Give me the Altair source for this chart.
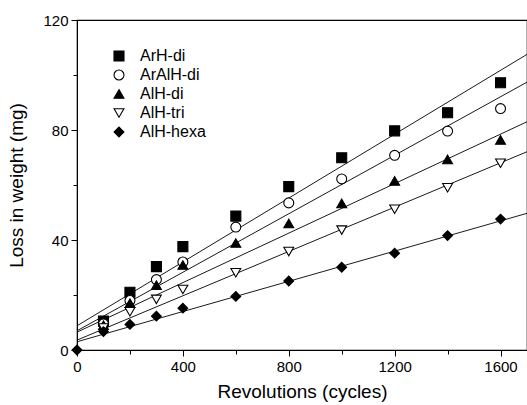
import altair as alt
import pandas as pd

series = ["ArH-di", "ArAlH-di", "AlH-di", "AlH-tri", "AlH-hexa"]
revs = [100, 200, 300, 400, 600, 800, 1000, 1200, 1400, 1600]
arh_di = [10.5, 21.0, 30.3, 37.6, 48.7, 59.4, 69.9, 79.7, 86.3, 97.2]
aralh_di = [9.5, 18.0, 25.6, 32.0, 44.7, 53.5, 62.2, 70.8, 79.6, 87.8]
alh_di = [9.0, 17.0, 23.6, 30.9, 38.9, 46.0, 53.3, 61.5, 69.3, 76.4]
alh_tri = [8.0, 13.9, 18.4, 22.0, 28.1, 35.8, 43.6, 51.2, 59.0, 67.9]
alh_hexa = [6.7, 9.3, 12.3, 15.2, 19.5, 25.1, 30.1, 35.2, 41.6, 47.6]
hexa_origin = [0, 0.0]

fit_x = [0, 1700]
fit_arh_di = [8.8, 107.5]
fit_aralh_di = [7.0, 97.4]
fit_alh_di = [6.5, 83.0]
fit_alh_tri = [3.6, 72.1]
fit_alh_hexa = [3.0, 49.7]

shapes = ["square", "circle", "triangle-up", "triangle-down", "diamond"]
fills = ["black", "white", "black", "white", "black"]
strokes = ["black", "black", "black", "black", "black"]
sizes = [100, 95, 165, 150, 215]

rows = []
for name, vals in zip(series, [arh_di, aralh_di, alh_di, alh_tri, alh_hexa]):
    for x, y in zip(revs, vals):
        rows.append({"series": name, "rev": x, "loss": y})
rows.append({"series": "AlH-hexa", "rev": hexa_origin[0], "loss": hexa_origin[1]})
pts = pd.DataFrame(rows)

frows = []
for name, vals in zip(series, [fit_arh_di, fit_aralh_di, fit_alh_di, fit_alh_tri, fit_alh_hexa]):
    for x, y in zip(fit_x, vals):
        frows.append({"series": name, "rev": x, "loss": y})
fits = pd.DataFrame(frows)

font = "Liberation Sans"

xscale = alt.Scale(domain=[0, 1700], nice=False, zero=False)
yscale = alt.Scale(domain=[0, 120], nice=False, zero=False)

xaxis = alt.Axis(
    title="Revolutions (cycles)",
    values=[0, 200, 400, 600, 800, 1000, 1200, 1400, 1600],
    labelExpr="datum.value % 400 === 0 ? datum.label : ''",
    format="d",
    grid=False,
    domainColor="black",
    tickColor="black",
    tickSize={"condition": {"test": "datum.value % 400 === 0", "value": 6}, "value": 4},
    labelFontSize=15,
    labelColor="black",
    labelFont=font,
    labelPadding=3,
    titleFont=font,
    titleFontSize=19,
    titleFontWeight="normal",
    titleColor="black",
    titlePadding=8,
    labelFlush=False,
)
yaxis = alt.Axis(
    title="Loss in weight (mg)",
    values=[0, 20, 40, 60, 80, 100, 120],
    labelExpr="datum.value % 40 === 0 ? datum.label : ''",
    grid=False,
    domainColor="black",
    tickColor="black",
    tickSize={"condition": {"test": "datum.value % 40 === 0", "value": 6}, "value": 4},
    labelFontSize=15,
    labelColor="black",
    labelFont=font,
    labelPadding=3,
    titleFont=font,
    titleFontSize=19,
    titleFontWeight="normal",
    titleColor="black",
    titlePadding=16,
    labelFlush=False,
)

legend = alt.Legend(
    title=None,
    orient="none",
    legendX=34,
    legendY=28,
    padding=0,
    rowPadding=3,
    labelFontSize=16,
    labelFont=font,
    labelColor="black",
    labelOffset=13,
    symbolStrokeWidth=1.1,
    symbolOpacity=1,
)

lines = alt.Chart(fits).mark_line(color="black", strokeWidth=0.9, clip=True).encode(
    x=alt.X("rev:Q", scale=xscale, axis=xaxis),
    y=alt.Y("loss:Q", scale=yscale, axis=yaxis),
    detail="series:N",
)

points = alt.Chart(pts).mark_point(
    strokeWidth=1.1, opacity=1, fillOpacity=1, clip=False
).encode(
    x=alt.X("rev:Q", scale=xscale),
    y=alt.Y("loss:Q", scale=yscale),
    shape=alt.Shape("series:N", sort=series, scale=alt.Scale(domain=series, range=shapes), legend=legend),
    fill=alt.Fill("series:N", sort=series, scale=alt.Scale(domain=series, range=fills), legend=legend),
    stroke=alt.Stroke("series:N", sort=series, scale=alt.Scale(domain=series, range=strokes), legend=legend),
    size=alt.Size("series:N", sort=series, scale=alt.Scale(domain=series, range=sizes), legend=legend),
)

chart = (
    alt.layer(lines, points)
    .properties(
        width=450,
        height=330,
        autosize=alt.AutoSizeParams(type="none"),
        padding={"left": 77, "top": 20, "right": 0, "bottom": 55},
        background="white",
    )
    .configure_view(stroke="black", strokeWidth=1.2)
)

chart.save("out.html", embed_options={"renderer": "svg", "actions": False})
